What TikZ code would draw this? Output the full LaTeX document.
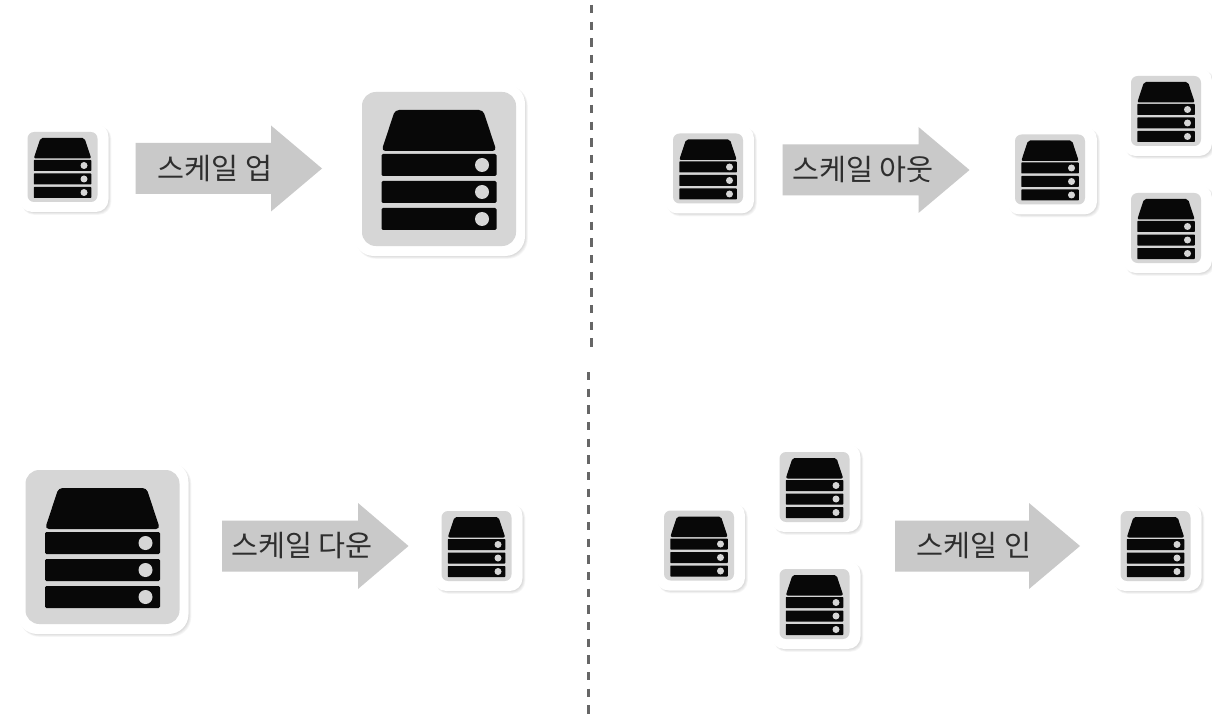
\documentclass[tikz,border=0pt]{standalone}
\usepackage{fontspec}
\newfontfamily\krfont{Noto Sans CJK KR}
\definecolor{boxgray}{HTML}{D6D6D6}
\definecolor{arrowgray}{HTML}{C9C9C9}
\definecolor{icongray}{HTML}{080808}
\definecolor{textgray}{HTML}{2E2E2E}
\definecolor{dashgray}{HTML}{666666}
\tikzset{
  iconbox/.style={fill=boxgray,draw=none},
  iconfill/.style={fill=icongray,draw=none},
  led/.style={fill=boxgray,draw=none},
  framebox/.style={fill=white,draw=none},
  haze/.style={fill=black,fill opacity=0.035,draw=none},
  scalearrow/.style={fill=arrowgray,draw=none},
  scalelabel/.style={font=\krfont\fontsize{22}{25}\selectfont,text=textgray,inner sep=0pt},
  divider/.style={draw=dashgray,line width=1.9pt,dash pattern=on 6.3pt off 6.2pt}
}
% #1 x, #2 y (icon centre), #3 half size of the grey box, #4 icon scale, #5 right frame pad
\newcommand{\serverbox}[5]{%
  \begin{scope}[shift={(#1,#2)}]
    \pgfmathsetmacro{\fr}{#3*0.17*0.75+5}
    \pgfmathsetmacro{\gr}{#3*0.17*0.75+0.5}
    \foreach \k in {0,1,...,4}{
      \fill[haze,rounded corners=\fr pt] (-#3-6,-#3-7) rectangle (#3+#5+\k*0.7,#3+9+\k*0.7);
    }
    \fill[framebox,rounded corners=\fr pt] (-#3-8,-#3-9) rectangle (#3+#5,#3+9);
    \fill[iconbox,rounded corners=\gr pt] (-#3,-#3-1) rectangle (#3,#3-1);
    \begin{scope}[x=#4*0.75pt,y=-#4*0.75pt]
      \fill[iconfill,rounded corners=#4*3pt] (-57.5,-19) -- (-44,-60) -- (44,-60) -- (57.5,-19) -- cycle;
      \foreach \a/\b in {-16/6,11/33,38/60}{
        \fill[iconfill,rounded corners=#4*1pt] (-57.5,\a) rectangle (57.5,\b);
        \pgfmathsetmacro{\cy}{(\a+\b)/2}
        \fill[led] (43,\cy) circle (7);
      }
    \end{scope}
  \end{scope}%
}
% #1 name, #2 left x, #3 centre y, #4 head start x, #5 tip x, #6 label centre x, #7 label
\newcommand{\scalearrow}[7]{%
  \fill[scalearrow] (#2,#3-25.5) -- (#4,#3-25.5) -- (#4,#3-43) -- (#5,#3) -- (#4,#3+43) -- (#4,#3+25.5) -- (#2,#3+25.5) -- cycle;
  \node[scalelabel] (#1) at (#6,#3) {#7};%
}
\begin{document}
\begin{tikzpicture}[x=0.75pt,y=-0.75pt]
  \useasboundingbox (0,0) rectangle (1212,720);
  \fill[white] (0,0) rectangle (1212,720);

  % dividers
  \coordinate (d1a) at (591.3,5);
  \coordinate (d1b) at (591.3,347);
  \coordinate (d2a) at (588.7,372);
  \coordinate (d2b) at (588.7,719);
  \draw[divider] (d1a) -- (d1b);
  \draw[divider] (d2a) -- (d2b);

  % scale up
  \serverbox{62.5}{168}{35}{0.5}{11}
  \scalearrow{up}{135.5}{168.5}{271}{322}{215}{스케일 업}
  \serverbox{439}{170}{77}{1}{9}

  % scale out
  \serverbox{708}{169.5}{35}{0.5}{11}
  \scalearrow{out}{782.5}{170}{918.5}{969.5}{863}{스케일 아웃}
  \serverbox{1050}{170.5}{35}{0.5}{12}
  \serverbox{1166}{112}{35}{0.5}{11}
  \serverbox{1166}{229}{35}{0.5}{11}

  % scale down
  \serverbox{102.5}{548}{77}{1}{9}
  \scalearrow{down}{222}{546}{358}{408.5}{302}{스케일 다운}
  \serverbox{476.5}{547}{35}{0.5}{11}

  % scale in
  \serverbox{699}{546.5}{35}{0.5}{11}
  \serverbox{814.5}{488}{35}{0.5}{11}
  \serverbox{814.5}{605}{35}{0.5}{11}
  \scalearrow{in}{895}{546}{1029}{1080}{974}{스케일 인}
  \serverbox{1155.5}{547}{35}{0.5}{11}
\end{tikzpicture}
\end{document}
